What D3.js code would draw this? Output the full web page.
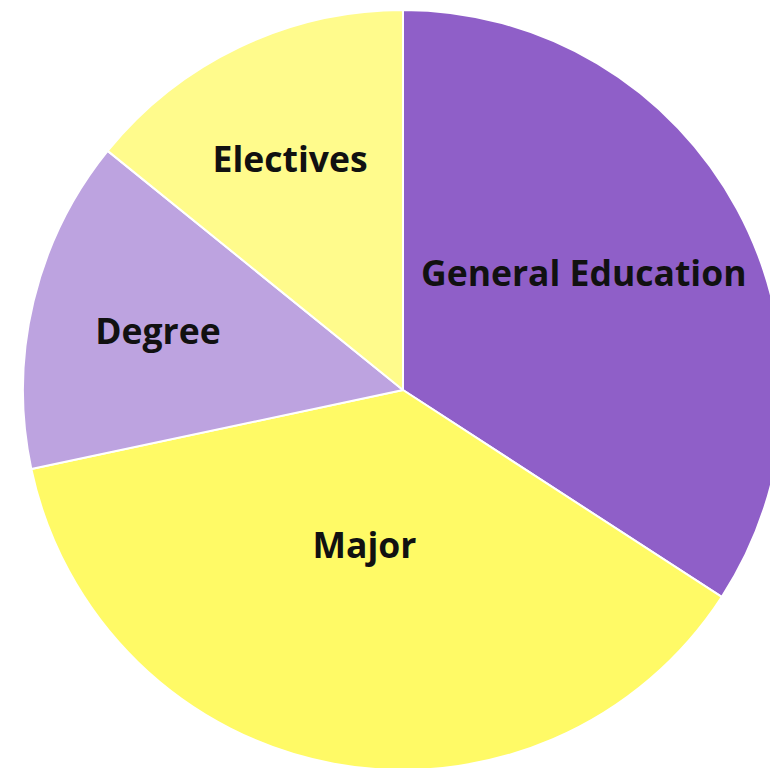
<!DOCTYPE html>
<html>
<head>
<meta charset="utf-8">
<script src="https://cdn.jsdelivr.net/npm/d3@7"></script>
<style>
  body { margin: 0; background: #fff; }
  svg { display: block; }
  .lbl { font-family: "Open Sans", sans-serif; font-weight: 700; fill: #111; }
</style>
</head>
<body>
<svg width="770" height="768"></svg>
<script>
// credit hours per requirement area (out of 120)
var categories = ["General Education", "Major", "Degree", "Electives"];
var credits = [41, 45, 17, 17];
var colors = ["#8f5fc8", "#fffa66", "#bda3e0", "#fffb8c"];

// label placement: distance from center and small angle nudge (radians)
var labelRadius = [215, 160, 252, 257];
var labelNudge = [-0.075, 0.06, 0, -0.01];

var svg = d3.select("svg"),
    width = +svg.attr("width"),
    height = +svg.attr("height"),
    radius = 380,
    g = svg.append("g").attr("transform", "translate(403,390)");

var pie = d3.pie().sort(null).value(function(d) { return d; });
var arcs = pie(credits);

var arc = d3.arc().innerRadius(0).outerRadius(radius);

g.selectAll("path.slice")
    .data(arcs)
  .enter().append("path")
    .attr("class", "slice")
    .attr("d", arc)
    .style("fill", function(d, i) { return colors[i]; })
    .style("stroke", "#fff")
    .style("stroke-width", 2)
    .style("stroke-linejoin", "round");

g.selectAll("text.lbl")
    .data(arcs)
  .enter().append("text")
    .attr("class", "lbl")
    .attr("transform", function(d, i) {
        var a = (d.startAngle + d.endAngle) / 2 + labelNudge[i];
        var r = labelRadius[i];
        return "translate(" + (Math.sin(a) * r) + "," + (-Math.cos(a) * r) + ")";
    })
    .attr("text-anchor", "middle")
    .attr("dy", ".35em")
    .attr("font-size", "35.5px")
    .text(function(d, i) { return categories[i]; });
</script>
</body>
</html>
